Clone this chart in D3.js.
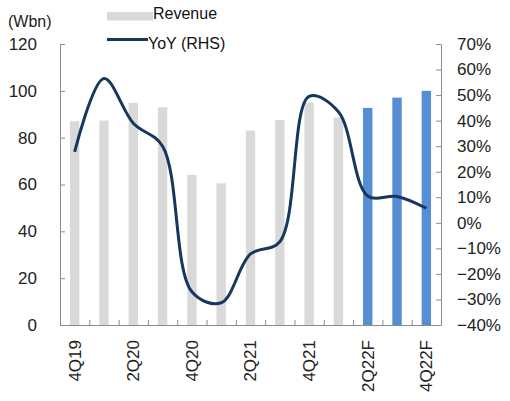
<!DOCTYPE html>
<html>
<head>
<meta charset="utf-8">
<script src="https://cdn.jsdelivr.net/npm/d3@7"></script>
<style>
  body { margin: 0; background: #fff; }
  svg { display: block; font-family: "Liberation Sans", Arial, sans-serif; }
</style>
</head>
<body>
<div id="chart"></div>
<script>
// данные
const quarters = ["4Q19", "1Q20", "2Q20", "3Q20", "4Q20", "1Q21", "2Q21", "3Q21", "4Q21", "1Q22F", "2Q22F", "3Q22F", "4Q22F"];
const revenue = [87, 87.3, 94.9, 93, 64.1, 60.5, 83, 87.6, 95, 88.6, 92.7, 97.1, 100];
const yoy = [27.8, 56.5, 39, 30, -27, -31.3, -12.2, -7.4, 49.5, 43.5, 10.5, 10.3, 5.7];
const forecast = [false, false, false, false, false, false, false, false, false, false, true, true, true];
const leftTicks = [0, 20, 40, 60, 80, 100, 120];
const rightTicks = [-40, -30, -20, -10, 0, 10, 20, 30, 40, 50, 60, 70];

const width = 510, height = 401;
const plot = { left: 60, right: 441, top: 44, bottom: 325 };

const svg = d3.select("#chart").append("svg")
    .attr("width", width)
    .attr("height", height);

// шкалы
const x = d3.scaleBand().domain(quarters).range([plot.left, plot.right]).padding(0);
const yL = d3.scaleLinear().domain([0, 120]).range([plot.bottom, plot.top]);
const yR = d3.scaleLinear().domain([-40, 70]).range([plot.bottom, plot.top]);
const edge = d3.scaleLinear().domain([0, quarters.length]).range([plot.left, plot.right]);

const barW = x.bandwidth() * 0.32;

// столбцы
svg.append("g").selectAll("rect")
    .data(quarters)
    .enter().append("rect")
    .attr("x", (d) => x(d) + (x.bandwidth() - barW) / 2)
    .attr("y", (d, i) => yL(revenue[i]))
    .attr("width", barW)
    .attr("height", (d, i) => yL(0) - yL(revenue[i]))
    .attr("fill", (d, i) => forecast[i] ? "#558ed5" : "#d9d9d9");

// оси
const axisColor = "#8c8c8c";

const gL = svg.append("g")
    .attr("transform", `translate(${plot.left},0)`)
    .call(d3.axisLeft(yL).tickValues(leftTicks).tickSize(-5).tickSizeOuter(0).tickPadding(23));

const gR = svg.append("g")
    .attr("transform", `translate(${plot.right},0)`)
    .call(d3.axisRight(yR).tickValues(rightTicks).tickSize(-5).tickSizeOuter(0).tickPadding(16)
        .tickFormat((d) => (d < 0 ? "\u2212" + Math.abs(d) : d) + "%"));

const gB = svg.append("g")
    .attr("transform", `translate(0,${plot.bottom})`)
    .call(d3.axisBottom(edge).tickValues(d3.range(quarters.length + 1)).tickSize(-5).tickSizeOuter(0).tickFormat(""));

[gL, gR, gB].forEach((g) => {
    g.select(".domain").attr("stroke", axisColor);
    g.selectAll(".tick line").attr("stroke", axisColor);
    g.selectAll("text")
        .attr("fill", "#222")
        .style("font-size", "17px")
        .style("font-family", "'Liberation Sans', Arial, sans-serif");
});

// подписи кварталов
svg.append("g").selectAll("text")
    .data(quarters.filter((d, i) => i % 2 === 0))
    .enter().append("text")
    .attr("transform", (d) => `translate(${x(d) + x.bandwidth() / 2},${plot.bottom + 15}) rotate(-90)`)
    .attr("dy", "0.35em")
    .attr("text-anchor", "end")
    .style("font-size", "17px")
    .attr("fill", "#222")
    .text((d) => d);

// линия YoY
const line = d3.line()
    .x((d, i) => x(quarters[i]) + x.bandwidth() / 2)
    .y((d) => yR(d))
    .curve(d3.curveCatmullRom);

svg.append("path")
    .datum(yoy)
    .attr("d", line)
    .attr("fill", "none")
    .attr("stroke", "#17375e")
    .attr("stroke-width", 3);

// единицы
svg.append("text")
    .attr("x", 8)
    .attr("y", 27)
    .style("font-size", "16px")
    .attr("fill", "#222")
    .text("(Wbn)");

// легенда
const legend = svg.append("g");
legend.append("rect")
    .attr("x", 107).attr("y", 12)
    .attr("width", 46).attr("height", 8.5)
    .attr("fill", "#d9d9d9");
legend.append("text")
    .attr("x", 153).attr("y", 18.5)
    .style("font-size", "16px")
    .attr("fill", "#111")
    .text("Revenue");
legend.append("line")
    .attr("x1", 107).attr("x2", 148)
    .attr("y1", 39.5).attr("y2", 39.5)
    .attr("stroke", "#17375e")
    .attr("stroke-width", 3);
legend.append("text")
    .attr("x", 148).attr("y", 48.5)
    .style("font-size", "16px")
    .attr("fill", "#111")
    .text("YoY (RHS)");
</script>
</body>
</html>
